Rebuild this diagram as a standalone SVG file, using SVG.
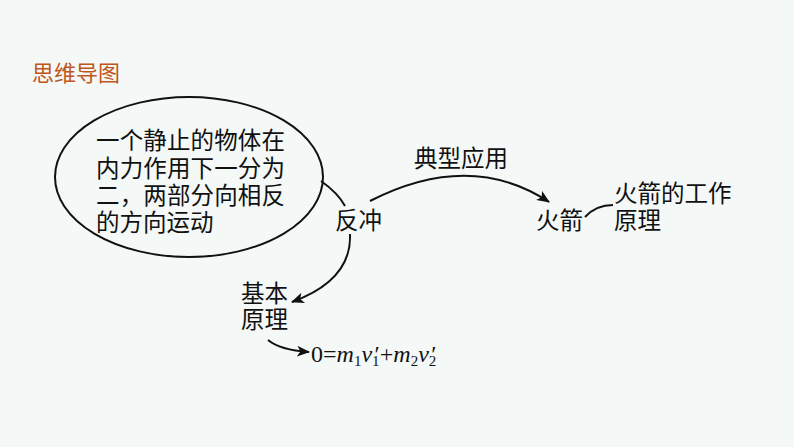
<svg xmlns="http://www.w3.org/2000/svg" width="794" height="447" viewBox="0 0 794 447">
<style>
.t{font-family:"Noto Sans CJK SC","Noto Sans",sans-serif;font-size:23.5px;fill:#111}
.ln{fill:none;stroke:#111;stroke-width:2}
.f{font-family:"Liberation Serif",serif;font-size:24px;fill:#111}
.s{font-size:15px}
</style>
<defs>
<marker id="ah2" viewBox="0 0 12 10" refX="11" refY="5" markerWidth="13" markerHeight="11" orient="auto" markerUnits="userSpaceOnUse">
<path d="M0,0 L12,5 L0,10 L3,5 Z" fill="#111"/>
</marker>
</defs>
<rect width="794" height="447" fill="#f4f8f6"/>
<text x="32" y="81" style="font-family:'Noto Sans CJK SC',sans-serif;font-size:22px;fill:#c0561c">思维导图</text>
<g id="ellipse-node">
<ellipse cx="189" cy="177" rx="134" ry="80" class="ln"/>
<text class="t" x="96" y="149" textLength="189">一个静止的物体在</text>
<text class="t" x="96" y="177" textLength="189">内力作用下一分为</text>
<text class="t" x="96" y="204" textLength="189">二，两部分向相反</text>
<text class="t" x="96" y="231">的方向运动</text>
</g>
<g id="fanchong"><text class="t" x="335" y="229">反冲</text></g>
<g id="dianxing"><text class="t" x="414" y="167">典型应用</text></g>
<g id="huojian"><text class="t" x="536" y="229">火箭</text></g>
<g id="yuanli-huojian"><text class="t" x="614" y="202">火箭的工作</text><text class="t" x="614" y="229">原理</text></g>
<g id="jiben"><text class="t" x="241" y="302">基本</text><text class="t" x="241" y="328">原理</text></g>
<g id="formula"><text class="f" x="311" y="362">0=<tspan font-style="italic">m</tspan><tspan class="s" dy="4">1</tspan><tspan font-style="italic" dy="-4">v</tspan><tspan class="s" dy="4">1</tspan><tspan dy="-4" dx="-5">′</tspan>+<tspan font-style="italic">m</tspan><tspan class="s" dy="4">2</tspan><tspan font-style="italic" dy="-4">v</tspan><tspan class="s" dy="4">2</tspan><tspan dy="-4" dx="-5">′</tspan></text></g>
<g id="connectors">
<path class="ln" d="M321,181 Q338,193 345,206"/>
<path class="ln" d="M370,201 Q470,150 549,202" marker-end="url(#ah2)"/>
<path class="ln" d="M350,234 Q352,280 292,302" marker-end="url(#ah2)"/>
<path class="ln" d="M268,340 Q280,350 309,352" marker-end="url(#ah2)"/>
<path class="ln" d="M585,217 Q596,205 613,205"/>
</g>
</svg>
